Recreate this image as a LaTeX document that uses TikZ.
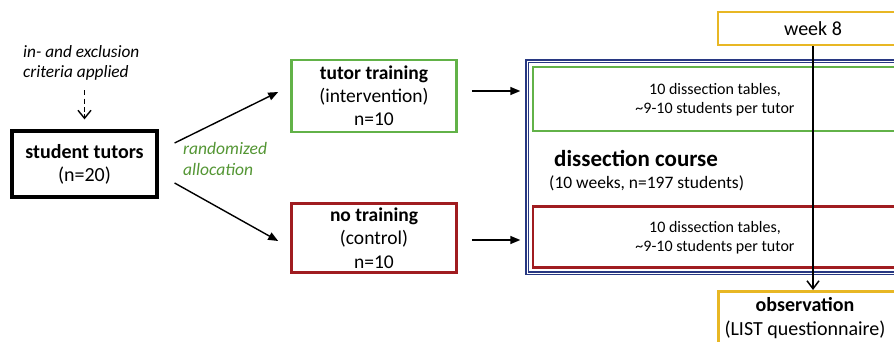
\documentclass[tikz,border=0pt]{standalone}
\usepackage{fontspec}
\setmainfont{Carlito}
\usetikzlibrary{arrows.meta}
\definecolor{cgreen}{RGB}{98,178,72}
\definecolor{cred}{RGB}{160,28,32}
\definecolor{cblue}{RGB}{40,56,130}
\definecolor{cyellow}{RGB}{232,183,36}
\definecolor{tgreen}{RGB}{84,150,52}
\newcommand{\fs}[2]{\fontsize{#1}{#2}\selectfont}
\tikzset{
  box/.style={draw, line width=2.6pt, inner sep=0pt, align=center},
  txt/.style={inner sep=0pt, align=center},
  arr/.style={line width=1.4pt, -{Triangle[length=10pt,width=8pt]}},
  barb/.style={-{Straight Barb[length=8pt,width=13pt,line width=1.4pt]}},
}
\begin{document}
\begin{tikzpicture}[x=1pt,y=-1pt]
\useasboundingbox (0,0) rectangle (894,341);
\clip (0,0) rectangle (894,341);
\fill[white] (0,0) rectangle (894,341);

% left
\node[txt, align=left, anchor=north west, font=\fs{17.3}{20}\itshape] (crit) at (23,45) {in- and exclusion\\criteria applied};
\node[box, line width=3.2pt, minimum width=145, minimum height=66, font=\fs{20}{23}] (st) at (84.5,164) {\textbf{student tutors}\\(n=20)};
\coordinate (dend) at ([shift={(0,-10)}]st.north);
\coordinate (dstart) at ([shift={(0,10)}]crit.south -| st.north);
\draw[line width=1.4pt, dash pattern=on 5pt off 3.5pt] (dstart) -- ([shift={(0,-5)}]dend);
\draw[line width=1.4pt, barb] ([shift={(0,-5)}]dend) -- (dend);

\node[txt, align=left, anchor=north west, font=\fs{17.5}{21}\itshape, text=tgreen] (rand) at (183,142) {randomized\\allocation};

% groups
\node[box, draw=cgreen, minimum width=165, minimum height=72, font=\fs{19.5}{23}] (tt) at (374,96) {\textbf{tutor training}\\(intervention)\\n=10};
\node[box, draw=cred, minimum width=165, minimum height=69, font=\fs{19.5}{23.5}] (nt) at (374,238) {\textbf{no training}\\(control)\\n=10};

\draw[arr] ([shift={(16,-21)}]st.east) -- ([shift={(-12,-4)}]tt.west);
\draw[arr] ([shift={(16,19)}]st.east) -- ([shift={(-12,3)}]nt.west);

% dissection course
\node[draw=cblue, line width=1.4pt, double=white, double distance=1pt, minimum width=420, minimum height=212, inner sep=0pt] (dc) at (737,167) {};
\node[draw=cgreen, line width=2.6pt, minimum width=420, minimum height=64, inner sep=0pt] (g1) at (743,99) {};
\node[draw=cred, line width=2.6pt, minimum width=420, minimum height=61, inner sep=0pt] (g2) at (743,237) {};
\node[txt, font=\fs{16}{19}] (t1) at (715,100) {10 dissection tables,\\\textasciitilde9-10 students per tutor};
\node[txt, font=\fs{16}{19}] (t2) at (715,238) {10 dissection tables,\\\textasciitilde9-10 students per tutor};
\node[txt, anchor=west, font=\fs{23}{26}\bfseries] (dct) at (554,158) {dissection course};
\node[txt, anchor=west, font=\fs{17.5}{20}] (dcs) at (549,183) {(10 weeks, n=197 students)};

\draw[arr] ([shift={(14,-5)}]tt.east) -- ([shift={(-6,-5)}]tt.east -| dc.west);
\draw[arr] ([shift={(14,2)}]nt.east) -- ([shift={(-6,2)}]nt.east -| dc.west);

% week 8 / observation
\node[box, draw=cyellow, minimum width=190, minimum height=33] (wk) at (813,28.5) {};
\node[txt, font=\fs{20}{23}] (wkt) at (813,29) {week 8};
\node[box, draw=cyellow, minimum width=190, minimum height=70, anchor=north west] (obs) at (717,290) {};
\node[txt, font=\fs{20}{24}] (obst) at (805,318) {\textbf{observation}\\(LIST questionnaire)};
\draw[line width=1.5pt, -{Straight Barb[length=8pt,width=12pt,line width=1.5pt]}] (wk.south -| wkt.south) -- (wkt.south |- obs.north);
\end{tikzpicture}
\end{document}
